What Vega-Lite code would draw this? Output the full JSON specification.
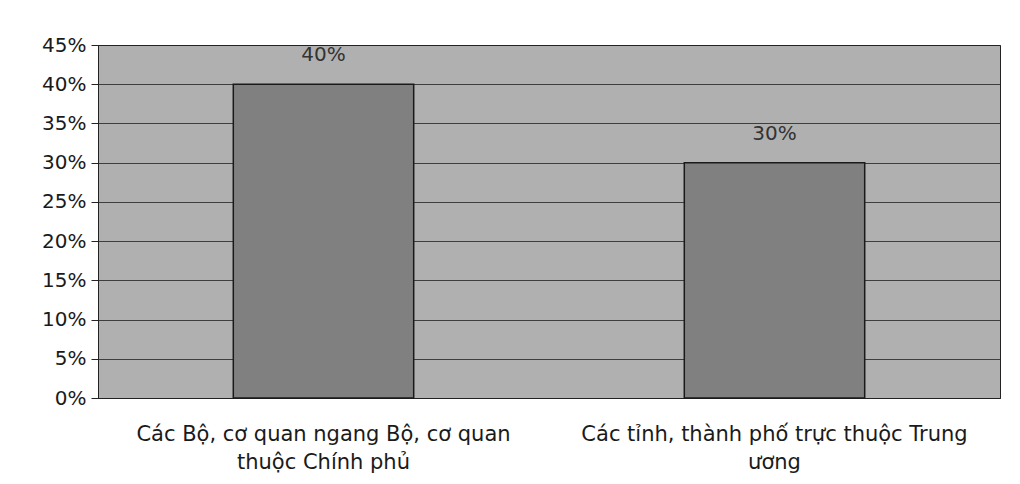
{
  "$schema": "https://vega.github.io/schema/vega-lite/v6.json",
  "autosize": {"type": "none"},
  "padding": {"left": 98, "top": 45, "right": 20, "bottom": 86},
  "width": 902,
  "height": 353,
  "background": "#ffffff",
  "config": {
    "view": {"fill": "#b0b0b0", "stroke": "#222222", "strokeWidth": 1},
    "font": "DejaVu Sans"
  },
  "data": {
    "values": [
      {"group": "Các Bộ, cơ quan ngang Bộ, cơ quan\nthuộc Chính phủ", "value": 0.40},
      {"group": "Các tỉnh, thành phố trực thuộc Trung\nương", "value": 0.30}
    ]
  },
  "encoding": {
    "x": {
      "field": "group", "type": "nominal", "sort": null,
      "scale": {"paddingInner": 0.6, "paddingOuter": 0.3},
      "axis": {
        "title": null, "labelAngle": 0, "labelFontSize": 21, "labelColor": "#1a1a1a",
        "labelExpr": "split(datum.label, '\\n')", "labelLineHeight": 28,
        "labelPadding": 25, "ticks": false, "domainColor": "#222222", "labelLimit": 0
      }
    },
    "y": {
      "field": "value", "type": "quantitative",
      "scale": {"domain": [0, 0.45], "nice": false},
      "axis": {
        "title": null, "format": ".0%", "values": [0, 0.05, 0.1, 0.15, 0.2, 0.25, 0.3, 0.35, 0.4, 0.45],
        "labelFontSize": 20, "labelColor": "#1a1a1a", "tickColor": "#222222", "tickSize": 7,
        "domainColor": "#222222", "grid": true, "gridColor": "#222222", "gridOpacity": 0.8,
        "labelPadding": 5
      }
    }
  },
  "layer": [
    {"mark": {"type": "bar", "color": "#808080", "stroke": "#1a1a1a", "strokeWidth": 1.5}},
    {"mark": {"type": "text", "baseline": "bottom", "dy": -19, "fontSize": 20, "color": "#333333"},
     "encoding": {"text": {"field": "value", "type": "quantitative", "format": ".0%"}}}
  ]
}
